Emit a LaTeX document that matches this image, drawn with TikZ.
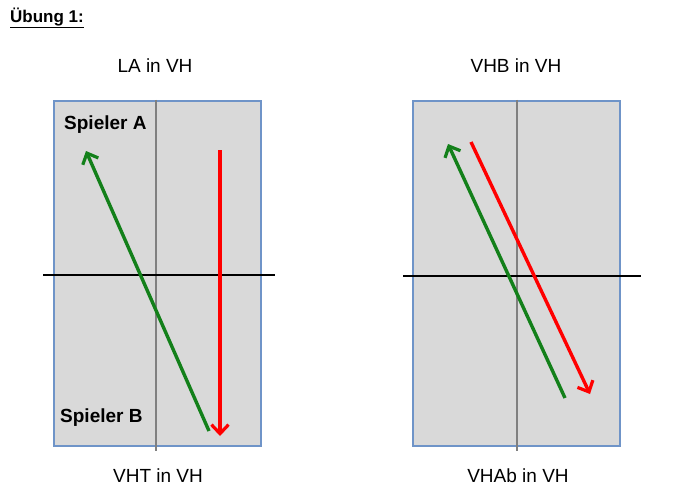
\documentclass[tikz,border=0pt]{standalone}
\usepackage{fontspec}
\setmainfont{Liberation Sans}
\usepackage{xcolor}
\usetikzlibrary{arrows.meta,positioning}

\definecolor{courtgray}{HTML}{D9D9D9}
\definecolor{courtblue}{HTML}{6F94C8}
\definecolor{rungreen}{HTML}{13801A}

\begin{document}
\begin{tikzpicture}[
  x=1pt,y=-1pt,
  court/.style={draw=courtblue,line width=2.4pt,fill=courtgray,minimum width=207pt,minimum height=345pt,inner sep=0pt},
  midline/.style={draw=gray,line width=2pt},
  netline/.style={draw=black,line width=2pt},
  caption/.style={font=\fontsize{19}{21}\selectfont,inner sep=0pt},
  player/.style={font=\fontsize{19}{21}\selectfont\bfseries,inner sep=0pt,anchor=west},
  run/.style={line width=3.4pt,-{Straight Barb[length=9pt,width=17pt,line width=3.2pt]}}
]
\useasboundingbox (0,0) rectangle (695,500);

\node[anchor=west,inner sep=0pt,font=\fontsize{17}{19}\selectfont\bfseries] (task) at (10,18) {\underline{Übung 1:}};

% left court
\node[court] (courtL) at (157.5,273.5) {};
\draw[midline] ([xshift=-1.5pt]courtL.north) -- ([xshift=-1.5pt,yshift=-4pt]courtL.south);
\coordinate (netLa) at (43,275);
\coordinate (netLb) at (275,275);
\draw[netline] (netLa) -- (netLb);
\node[caption] (titleLA) at (155,66) {LA in VH};
\node[caption] (titleVHT) at (158,476) {VHT in VH};
\node[player] (spA) at (64,125) {Spieler A};
\node[player] (spB) at (60,418) {Spieler B};
\coordinate (gLa) at (209,431);
\coordinate (gLb) at (86,151);
\coordinate (rLa) at (220,150);
\coordinate (rLb) at (220,436);
\draw[run,rungreen] (gLa) -- (gLb);
\draw[run,red] (rLa) -- (rLb);

% right court
\node[court] (courtR) at (516.5,273.5) {};
\draw[midline] (courtR.north) -- ([yshift=-4pt]courtR.south);
\coordinate (netRa) at (403,276);
\coordinate (netRb) at (641,276);
\draw[netline] (netRa) -- (netRb);
\node[caption] (titleVHB) at (516,66) {VHB in VH};
\node[caption] (titleVHAb) at (518,476) {VHAb in VH};
\coordinate (gRa) at (565,398);
\coordinate (gRb) at (448,144);
\coordinate (rRa) at (471,142);
\coordinate (rRb) at (590,394);
\draw[run,rungreen] (gRa) -- (gRb);
\draw[run,red] (rRa) -- (rRb);
\end{tikzpicture}
\end{document}
